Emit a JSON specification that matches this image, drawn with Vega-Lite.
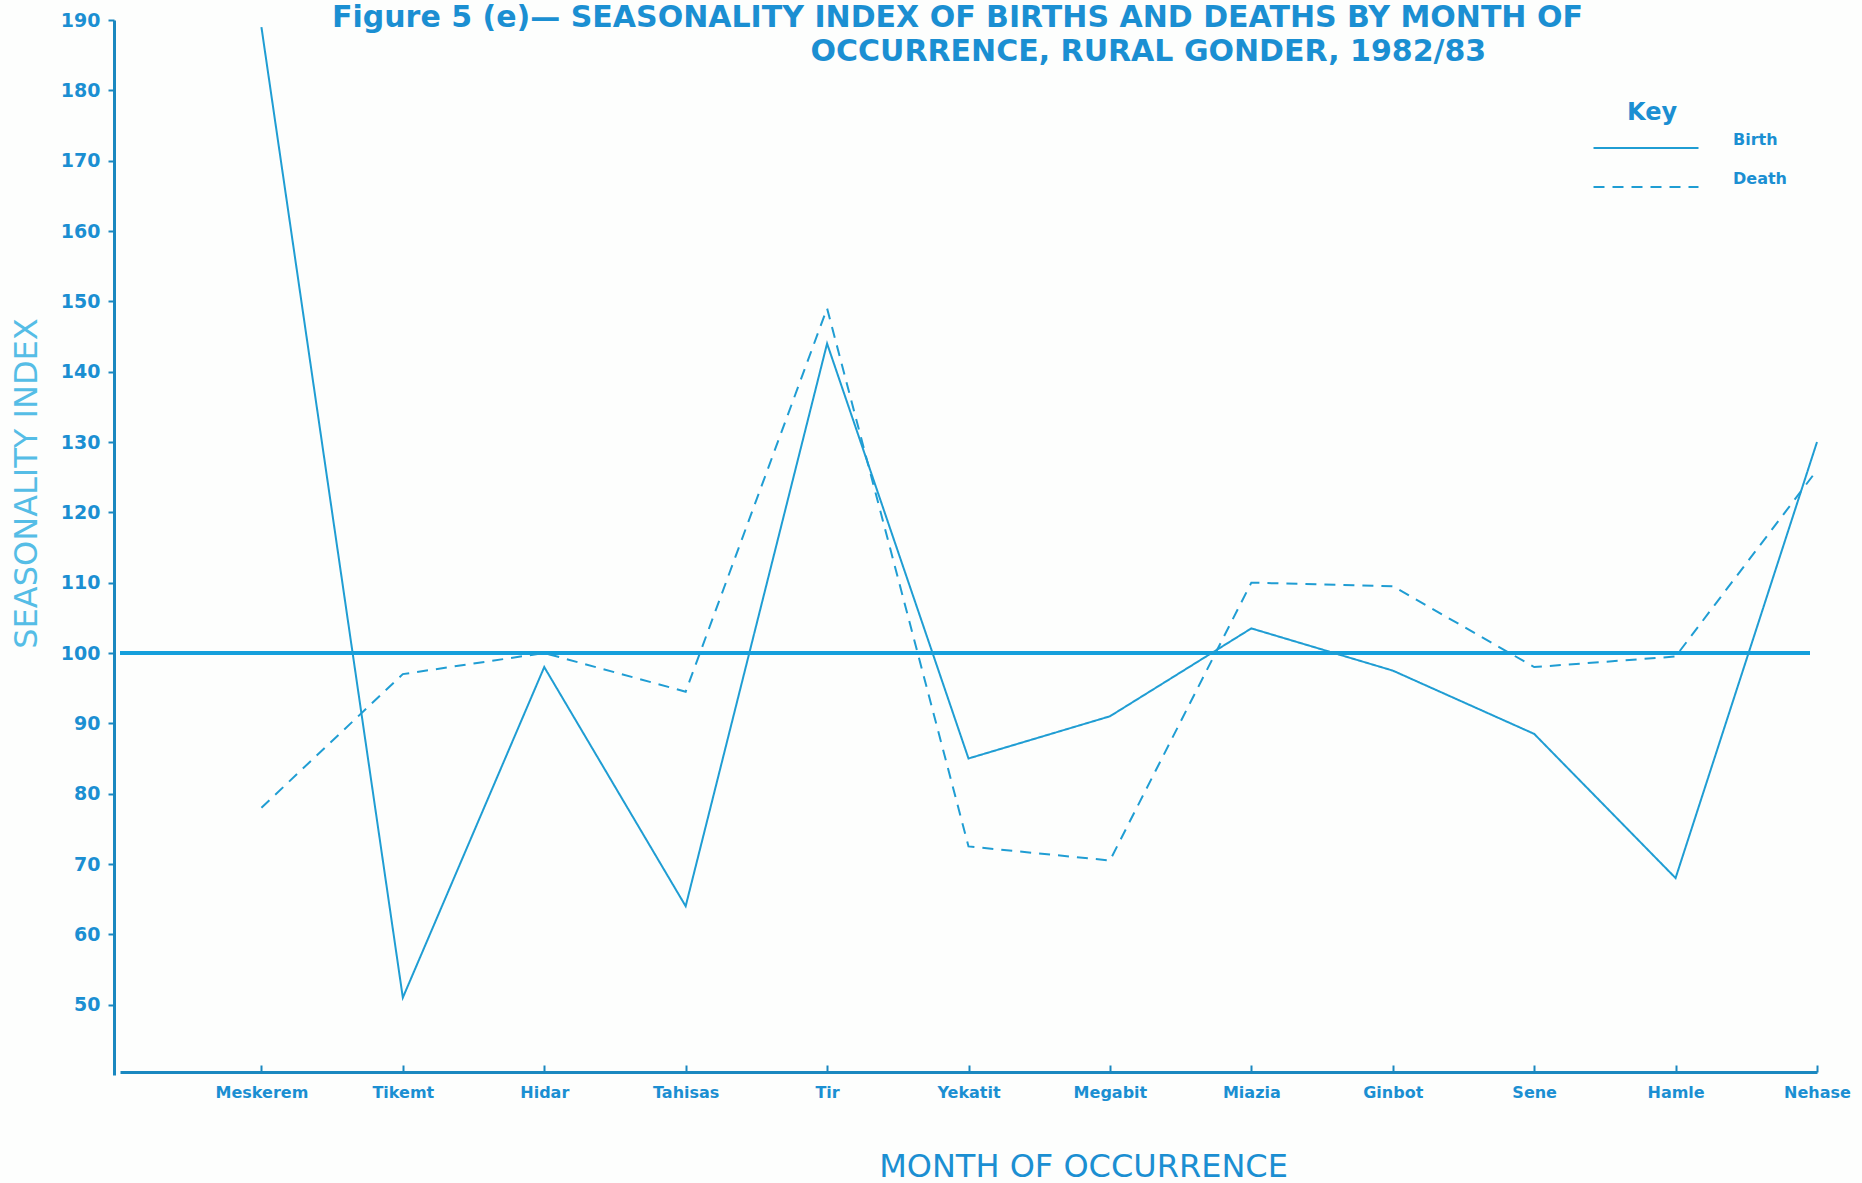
{
  "$schema": "https://vega.github.io/schema/vega-lite/v6.json",
  "width": 1697,
  "height": 1055,
  "autosize": {"type": "none"},
  "padding": {"left": 120, "top": 20, "right": 45, "bottom": 108},
  "background": "#fdfefd",
  "title": {
    "text": "Figure 5 (e)— SEASONALITY INDEX OF BIRTHS AND DEATHS BY MONTH OF",
    "anchor": "start",
    "frame": "group",
    "dx": 212,
    "offset": -22,
    "font": "DejaVu Sans",
    "fontSize": 30,
    "fontWeight": "bold",
    "color": "#1b8fd2"
  },
  "data": {
    "values": [
      {"month": "Meskerem", "order": 1, "series": "Birth", "index": 189},
      {"month": "Tikemt", "order": 2, "series": "Birth", "index": 51},
      {"month": "Hidar", "order": 3, "series": "Birth", "index": 98},
      {"month": "Tahisas", "order": 4, "series": "Birth", "index": 64},
      {"month": "Tir", "order": 5, "series": "Birth", "index": 144},
      {"month": "Yekatit", "order": 6, "series": "Birth", "index": 85},
      {"month": "Megabit", "order": 7, "series": "Birth", "index": 91},
      {"month": "Miazia", "order": 8, "series": "Birth", "index": 103.5},
      {"month": "Ginbot", "order": 9, "series": "Birth", "index": 97.5},
      {"month": "Sene", "order": 10, "series": "Birth", "index": 88.5},
      {"month": "Hamle", "order": 11, "series": "Birth", "index": 68},
      {"month": "Nehase", "order": 12, "series": "Birth", "index": 130},
      {"month": "Meskerem", "order": 1, "series": "Death", "index": 78},
      {"month": "Tikemt", "order": 2, "series": "Death", "index": 97},
      {"month": "Hidar", "order": 3, "series": "Death", "index": 100},
      {"month": "Tahisas", "order": 4, "series": "Death", "index": 94.5},
      {"month": "Tir", "order": 5, "series": "Death", "index": 149},
      {"month": "Yekatit", "order": 6, "series": "Death", "index": 72.5},
      {"month": "Megabit", "order": 7, "series": "Death", "index": 70.5},
      {"month": "Miazia", "order": 8, "series": "Death", "index": 110},
      {"month": "Ginbot", "order": 9, "series": "Death", "index": 109.5},
      {"month": "Sene", "order": 10, "series": "Death", "index": 98},
      {"month": "Hamle", "order": 11, "series": "Death", "index": 99.5},
      {"month": "Nehase", "order": 12, "series": "Death", "index": 126}
    ]
  },
  "encoding": {
    "y": {
      "field": "index",
      "type": "quantitative",
      "scale": {"domain": [40, 190], "nice": false, "zero": false},
      "axis": {
        "values": [50, 60, 70, 80, 90, 100, 110, 120, 130, 140, 150, 160, 170, 180, 190],
        "title": "SEASONALITY INDEX",
        "grid": false,
        "offset": 6,
        "domainColor": "#1a88c0",
        "domainWidth": 3,
        "tickColor": "#1a88c0",
        "tickWidth": 2,
        "tickSize": 6,
        "labelPadding": 8,
        "labelFont": "DejaVu Sans",
        "labelFontSize": 19,
        "labelFontWeight": "bold",
        "labelColor": "#1b8fd2",
        "titleFont": "DejaVu Sans",
        "titleFontSize": 32,
        "titleFontWeight": "normal",
        "titleColor": "#55bde6",
        "titleBaseline": "middle",
        "titleAngle": 270,
        "titleX": -88,
        "titleY": 463
      }
    }
  },
  "layer": [
    {
      "mark": {"type": "rule", "color": "#159fdc", "strokeWidth": 2.5},
      "encoding": {
        "y": {"datum": 100},
        "x": {
          "datum": 0,
          "type": "quantitative",
          "scale": {"domain": [0, 12], "nice": false, "zero": false},
          "axis": {
            "orient": "top",
            "domain": false,
            "ticks": false,
            "labels": false,
            "grid": false,
            "title": "OCCURRENCE, RURAL GONDER, 1982/83",
            "titleX": 690,
            "titleY": 40,
            "titleAlign": "left",
            "titleAnchor": "start",
            "titleBaseline": "alphabetic",
            "titleAngle": 0,
            "titleFont": "DejaVu Sans",
            "titleFontSize": 30,
            "titleFontWeight": "bold",
            "titleColor": "#1b8fd2"
          }
        },
        "x2": {"datum": 11.95}
      }
    },
    {
      "mark": {"type": "line", "color": "#1f9dd3", "strokeWidth": 2},
      "encoding": {
        "x": {
          "field": "order",
          "type": "quantitative",
          "scale": {"domain": [0, 12], "nice": false, "zero": false},
          "axis": {
            "orient": "bottom",
            "values": [1, 2, 3, 4, 5, 6, 7, 8, 9, 10, 11, 12],
            "labelExpr": "['','Meskerem','Tikemt','Hidar','Tahisas','Tir','Yekatit','Megabit','Miazia','Ginbot','Sene','Hamle','Nehase'][datum.value]",
            "title": "MONTH OF  OCCURRENCE",
            "grid": false,
            "offset": -3,
            "domainColor": "#1a88c0",
            "domainWidth": 3,
            "tickColor": "#1a88c0",
            "tickWidth": 2,
            "tickSize": -7,
            "labelPadding": 27,
            "labelFont": "DejaVu Sans",
            "labelFontSize": 16,
            "labelFontWeight": "bold",
            "labelColor": "#1b8fd2",
            "labelBaseline": "middle",
            "labelFlush": false,
            "titleFont": "DejaVu Sans",
            "titleFontSize": 32,
            "titleFontWeight": "normal",
            "titleColor": "#1b8fd2",
            "titleBaseline": "middle",
            "titleX": 963,
            "titleY": 94
          }
        },
        "strokeDash": {
          "field": "series",
          "type": "nominal",
          "scale": {"domain": ["Birth", "Death"], "range": [[1, 0], [11, 8]]},
          "legend": {
            "title": "Key",
            "orient": "none",
            "legendX": 1507,
            "legendY": 81,
            "padding": 0,
            "symbolType": "M-3,0H3",
            "symbolSize": 1225,
            "symbolStrokeWidth": 2.2,
            "symbolStrokeColor": "#1f9dd3",
            "symbolFillColor": "transparent",
            "labelOffset": 68,
            "labelFont": "DejaVu Sans",
            "labelFontSize": 16,
            "labelFontWeight": "bold",
            "labelColor": "#1b8fd2",
            "labelBaseline": "bottom",
            "rowPadding": 15,
            "titleFont": "DejaVu Sans",
            "titleFontSize": 24,
            "titleFontWeight": "bold",
            "titleColor": "#1b8fd2",
            "titleAnchor": "start",
            "titlePadding": 4
          }
        }
      }
    }
  ],
  "resolve": {"axis": {"x": "independent"}},
  "config": {"view": {"stroke": null}}
}
